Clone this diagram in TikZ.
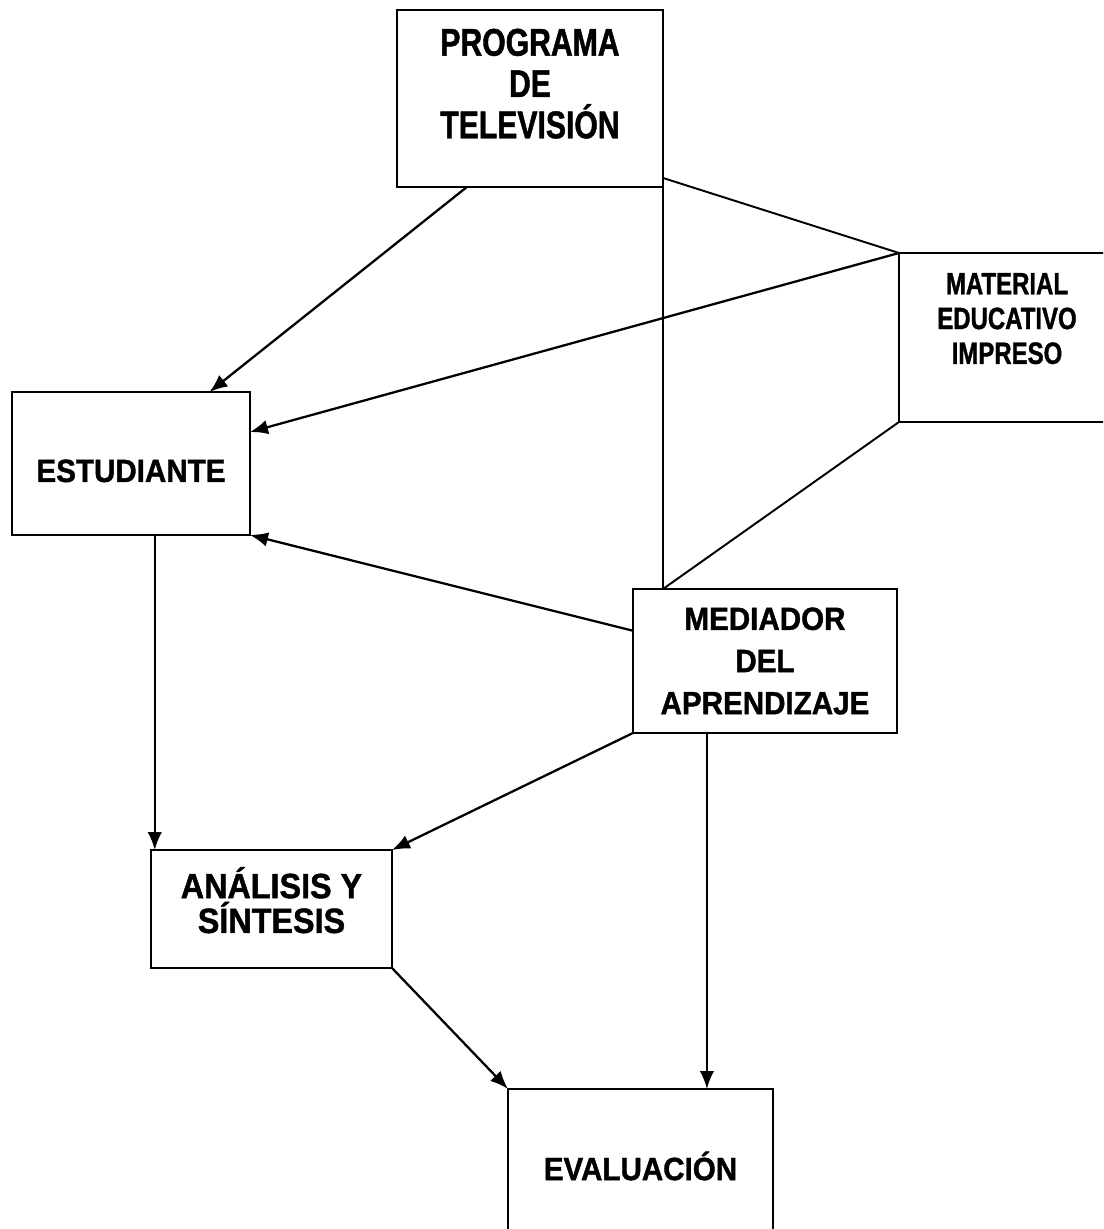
\documentclass[tikz,border=0pt]{standalone}
\usepackage{fontspec}
\newfontfamily\boxsans{Liberation Sans Bold}[FakeStretch=0.92,FakeBold=1.2]
\newfontfamily\narrowsans{Liberation Sans Bold}[FakeStretch=0.78,FakeBold=1.2]
\usepackage{tikz}
\usetikzlibrary{arrows.meta,calc}

\begin{document}
\begin{tikzpicture}[
  x=0.02cm,y=-0.02cm,
  box/.style={draw,line width=1.4pt,outer sep=0pt,inner sep=0pt,align=center,anchor=north west,font=\boxsans\fontsize{18.3}{24}\selectfont},
  narrowbox/.style={box,font=\narrowsans\fontsize{22}{23.5}\selectfont},
  arr/.style={-{Latex[length=3.6mm,width=2.9mm]},line width=1.3pt},
  link/.style={line width=1.1pt},
]
\useasboundingbox (0,0) rectangle (1103,1229);
\clip (0,0) rectangle (1103,1229);
\node[narrowbox,minimum width=5.32cm,minimum height=3.54cm,text depth=0.6cm] (prog) at (397,10) {PROGRAMA\\DE\\TELEVISIÓN};
\node[narrowbox,font=\narrowsans\fontsize{17.5}{19.8}\selectfont,minimum width=4.32cm,minimum height=3.38cm,text depth=0.76cm] (mat) at (899,253) {MATERIAL\\EDUCATIVO\\IMPRESO};
\node[box,minimum width=4.76cm,minimum height=2.86cm,text height=0.74cm,text depth=0cm] (est) at (12,392) {ESTUDIANTE};
\node[box,minimum width=5.28cm,minimum height=2.88cm] (med) at (633,589) {MEDIADOR\\DEL\\APRENDIZAJE};
\node[box,font=\boxsans\fontsize{20}{19.8}\selectfont,minimum width=4.82cm,minimum height=2.36cm,text depth=0.36cm] (ana) at (151,850) {ANÁLISIS Y\\SÍNTESIS};
\node[box,minimum width=5.3cm,minimum height=3.08cm] (eva) at (508,1089) {EVALUACIÓN};
\coordinate (estout) at ($(est.south west)!0.6!(est.south east)$);
\coordinate (medout) at ($(med.south west)!0.28!(med.south east)$);
\draw[arr] ($(prog.south west)!0.263!(prog.south east)$) -- ($(est.north west)!0.83!(est.north east)$);
\draw[arr] (mat.north west) -- ($(est.north east)!0.28!(est.south east)$);
\draw[link] ($(prog.south east)+(0,-9)$) -- (mat.north west);
\draw[link] (prog.south east) -- (prog.south east |- med.north);
\draw[link] (mat.south west) -- (prog.south east |- med.north);
\draw[arr] ($(med.north west)!0.29!(med.south west)$) -- (est.south east);
\draw[arr] (estout) -- (estout |- ana.north);
\draw[arr] (med.south west) -- (ana.north east);
\draw[arr] (ana.south east) -- (eva.north west);
\draw[arr] (medout) -- (medout |- eva.north);
\end{tikzpicture}
\end{document}
